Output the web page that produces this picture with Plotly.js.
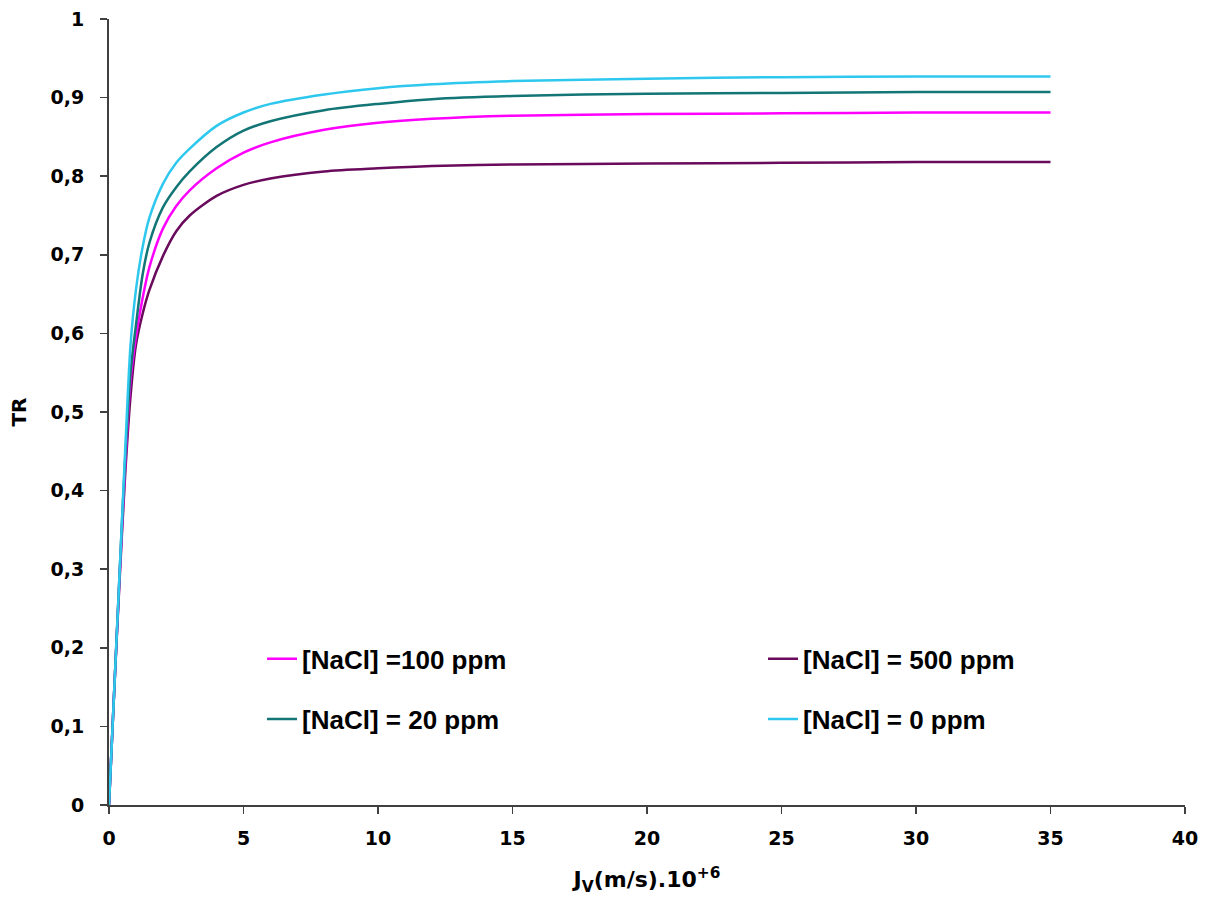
<!DOCTYPE html>
<html>
<head>
<meta charset="utf-8">
<script src="https://cdn.plot.ly/plotly-3.0.1.min.js"></script>
<style>html,body{margin:0;padding:0;background:#fff;}#chart{width:1210px;height:899px;}</style>
</head>
<body>
<div id="chart"></div>
<script>
// Jv values (m/s ×10^6)
const jv = [0, 0.2, 0.4, 0.6, 0.8, 1.0, 1.25, 1.5, 2, 2.5, 3, 4, 5, 6, 8, 10, 12, 15, 20, 25, 30, 35];

const seriesNames = ["[NaCl] =100 ppm", "[NaCl] = 500 ppm", "[NaCl] = 20 ppm", "[NaCl] = 0 ppm"];
const tr100 = [0, 0.15, 0.295, 0.43, 0.54, 0.595, 0.645, 0.684, 0.733, 0.762, 0.782, 0.810, 0.830, 0.843, 0.859, 0.868, 0.873, 0.877, 0.879, 0.880, 0.881, 0.881];
const tr500 = [0, 0.15, 0.29, 0.42, 0.52, 0.585, 0.625, 0.655, 0.698, 0.730, 0.750, 0.775, 0.789, 0.797, 0.806, 0.810, 0.813, 0.815, 0.816, 0.817, 0.818, 0.818];
const tr20  = [0, 0.15, 0.30, 0.44, 0.55, 0.61, 0.675, 0.715, 0.760, 0.786, 0.806, 0.837, 0.858, 0.870, 0.884, 0.892, 0.898, 0.902, 0.905, 0.906, 0.907, 0.907];
const tr0   = [0, 0.15, 0.30, 0.45, 0.585, 0.655, 0.71, 0.747, 0.790, 0.817, 0.835, 0.864, 0.881, 0.892, 0.904, 0.912, 0.917, 0.921, 0.924, 0.926, 0.927, 0.927];

const xTicks = [0, 5, 10, 15, 20, 25, 30, 35, 40];
const yTicks = [0, 0.1, 0.2, 0.3, 0.4, 0.5, 0.6, 0.7, 0.8, 0.9, 1];

const colors = ["#ff00ff", "#6a0a5c", "#137575", "#2ec8ee"];
const ys = [tr100, tr500, tr20, tr0];
const legendIds = ["legend", "legend2", "legend3", "legend4"];

const traces = ys.map((y, i) => ({
  x: jv, y: y, type: "scatter", mode: "lines", name: seriesNames[i],
  line: {color: colors[i], width: 2.5, shape: "spline", smoothing: 0.8},
  legend: legendIds[i]
}));
const ordered = [traces[1], traces[0], traces[2], traces[3]];

const fam = "DejaVu Sans, Liberation Sans, Arial, sans-serif";
const legFont = {family: "Liberation Sans, Arial, sans-serif", size: 26, color: "#000", weight: "bold"};
const tickFont = {family: fam, size: 19, color: "#000", weight: "bold"};

function leg(x, y) {
  return {x: x, y: y, xanchor: "left", yanchor: "middle", orientation: "v",
          bgcolor: "rgba(0,0,0,0)", font: legFont, borderwidth: 0};
}

const layout = {
  width: 1210, height: 899,
  margin: {l: 109, r: 25, t: 19, b: 94},
  paper_bgcolor: "#fff", plot_bgcolor: "#fff",
  separators: ", ",
  font: {family: fam, size: 18, color: "#000"},
  showlegend: true,
  xaxis: {
    range: [0, 40], tickvals: xTicks,
    showgrid: false, zeroline: false,
    showline: true, linecolor: "#404040", linewidth: 2,
    ticks: "outside", ticklen: 7, tickwidth: 1.5, tickcolor: "#404040",
    ticklabelstandoff: 8,
    tickfont: tickFont,
    title: {text: "J<sub>V</sub>(m/s).10<sup>+6</sup>", standoff: 24,
            font: {family: fam, size: 22, color: "#000", weight: "bold"}}
  },
  yaxis: {
    range: [0, 1], tickvals: yTicks,
    showgrid: false, zeroline: false,
    showline: true, linecolor: "#404040", linewidth: 2,
    ticks: "outside", ticklen: 7, tickwidth: 1.5, tickcolor: "#404040",
    ticklabelstandoff: 12,
    tickfont: tickFont,
    title: {text: "TR", standoff: 19,
            font: {family: fam, size: 20, color: "#000", weight: "bold"}}
  },
  legend: leg(0.1422, 0.1858),
  legend2: leg(0.6078, 0.1858),
  legend3: leg(0.1422, 0.1094),
  legend4: leg(0.6078, 0.1094)
};

Plotly.newPlot("chart", ordered, layout, {displayModeBar: false, staticPlot: true});
</script>
</body>
</html>
